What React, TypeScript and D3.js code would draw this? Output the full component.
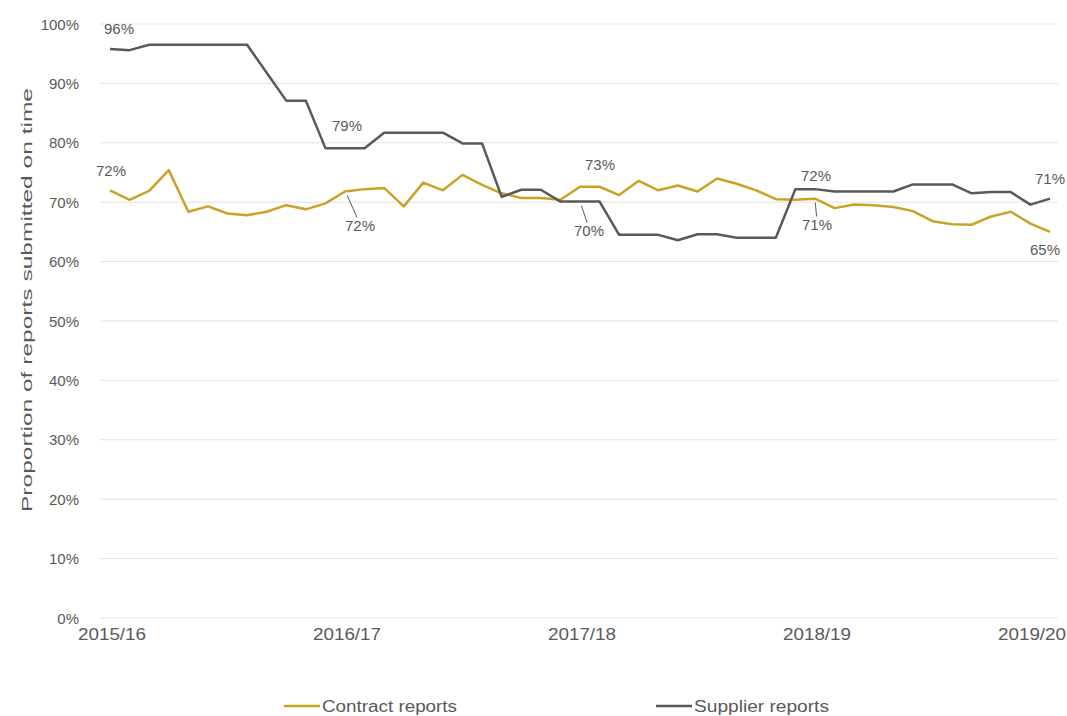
import React from "react";
import * as d3 from "d3";

// ---- data ----
const xTickLabels = ["2015/16", "2016/17", "2017/18", "2018/19", "2019/20"];
const monthsPerYear = 12;
const contractReports = [
  72.0, 70.4, 71.9, 75.4, 68.4, 69.3, 68.1, 67.8, 68.4, 69.5,
  68.8, 69.8, 71.8, 72.2, 72.4, 69.3, 73.3, 72.0, 74.6, 72.9,
  71.5, 70.7, 70.7, 70.4, 72.6, 72.6, 71.2, 73.6, 72.0, 72.8,
  71.8, 74.0, 73.1, 72.0, 70.5, 70.4, 70.6, 69.0, 69.6, 69.5,
  69.2, 68.5, 66.8, 66.3, 66.2, 67.6, 68.4, 66.4, 65.0,
];
const supplierReports = [
  95.8, 95.6, 96.5, 96.5, 96.5, 96.5, 96.5, 96.5, 91.8, 87.1,
  87.1, 79.1, 79.1, 79.1, 81.7, 81.7, 81.7, 81.7, 79.9, 79.9,
  70.9, 72.1, 72.1, 70.1, 70.1, 70.1, 64.5, 64.5, 64.5, 63.6,
  64.6, 64.6, 64.0, 64.0, 64.0, 72.2, 72.2, 71.8, 71.8, 71.8,
  71.8, 73.0, 73.0, 73.0, 71.5, 71.7, 71.7, 69.6, 70.6,
];
const yTicks = [0, 10, 20, 30, 40, 50, 60, 70, 80, 90, 100];
const seriesNames = ["Contract reports", "Supplier reports"];
const labelledIndices = [0, 12, 24, 36, 48];

// label placement offsets (relative to the point)
const contractLabelOffsets = [
  { dx: 1, dy: -20, leader: false },
  { dx: 15, dy: 34, leader: true },
  { dx: 20, dy: -22, leader: false },
  { dx: 2, dy: 26, leader: true },
  { dx: -5, dy: 18, leader: false },
];
const supplierLabelOffsets = [
  { dx: 9, dy: -20, leader: false },
  { dx: 2, dy: -23, leader: false },
  { dx: 9, dy: 29, leader: true },
  { dx: 1, dy: -14, leader: false },
  { dx: 0, dy: -20, leader: false },
];

const W = 1067;
const H = 716;
const COLOR_CONTRACT = "#c9a227";
const COLOR_SUPPLIER = "#595959";
const TEXT = "#595959";
const FONT = "'Liberation Sans', Arial, sans-serif";

export default function App() {
  const n = contractReports.length;
  const x = d3.scalePoint<number>().domain(d3.range(n)).range([110, 1050]);
  const y = d3.scaleLinear().domain([0, 100]).range([618, 24]);
  const plotLeft = 100;
  const plotRight = 1058;

  const line = d3
    .line<number>()
    .x((_, i) => x(i) as number)
    .y((d) => y(d));

  const renderLabels = (
    data: number[],
    offsets: { dx: number; dy: number; leader: boolean }[],
    key: string
  ) =>
    labelledIndices.map((idx, k) => {
      const px = x(idx) as number;
      const py = y(data[idx]);
      const o = offsets[k];
      const tx = px + o.dx;
      const ty = py + o.dy;
      return (
        <g key={key + idx}>
          {o.leader && (
            <line
              x1={px + o.dx * 0.15}
              y1={py + Math.sign(o.dy) * 4}
              x2={tx - o.dx * 0.2}
              y2={ty - Math.sign(o.dy) * 8}
              stroke={TEXT}
              strokeWidth={1}
            />
          )}
          <text
            x={tx}
            y={ty}
            textAnchor="middle"
            dominantBaseline="central"
            fontSize={15}
            fill={TEXT}
          >
            {Math.round(data[idx])}%
          </text>
        </g>
      );
    });

  return (
    <svg
      width={W}
      height={H}
      style={{ position: "absolute", left: 0, top: 0, background: "#fff" }}
      fontFamily={FONT}
    >
      {/* gridlines */}
      {yTicks.map((t) => (
        <line
          key={"g" + t}
          x1={plotLeft}
          x2={plotRight}
          y1={y(t)}
          y2={y(t)}
          stroke="#e3e3e3"
          strokeWidth={1}
        />
      ))}
      {/* y tick labels */}
      {yTicks.map((t) => (
        <text
          key={"yt" + t}
          x={79}
          y={y(t)}
          textAnchor="end"
          dominantBaseline="central"
          fontSize={15}
          fill={TEXT}
        >
          {t}%
        </text>
      ))}
      {/* y axis title */}
      <text
        transform={`translate(26,300) rotate(-90)`}
        textAnchor="middle"
        dominantBaseline="central"
        fontSize={15}
        fill={TEXT}
        textLength={424}
        lengthAdjust="spacingAndGlyphs"
      >
        Proportion of reports submitted on time
      </text>
      {/* x tick labels */}
      {xTickLabels.map((lab, k) => {
        const idx = k * monthsPerYear;
        const px = x(idx) as number;
        const last = px + 34 > W;
        return (
          <text
            key={"xt" + lab}
            x={last ? W - 1 : px + 2}
            y={634}
            textAnchor={last ? "end" : "middle"}
            dominantBaseline="central"
            fontSize={16}
            fill={TEXT}
            textLength={68}
            lengthAdjust="spacingAndGlyphs"
          >
            {lab}
          </text>
        );
      })}
      {/* lines */}
      <path
        d={line(contractReports) || ""}
        fill="none"
        stroke={COLOR_CONTRACT}
        strokeWidth={2.5}
        strokeLinejoin="round"
      />
      <path
        d={line(supplierReports) || ""}
        fill="none"
        stroke={COLOR_SUPPLIER}
        strokeWidth={2.5}
        strokeLinejoin="round"
      />
      {/* data labels */}
      {renderLabels(contractReports, contractLabelOffsets, "c")}
      {renderLabels(supplierReports, supplierLabelOffsets, "s")}
      {/* legend */}
      {seriesNames.map((name, k) => {
        const x0 = k === 0 ? 284 : 656;
        const color = k === 0 ? COLOR_CONTRACT : COLOR_SUPPLIER;
        return (
          <g key={"lg" + name}>
            <line x1={x0} x2={x0 + 36} y1={706} y2={706} stroke={color} strokeWidth={2.5} />
            <text
              x={x0 + 38}
              y={706}
              dominantBaseline="central"
              fontSize={16}
              fill={TEXT}
              textLength={k === 0 ? 135 : 135}
              lengthAdjust="spacingAndGlyphs"
            >
              {name}
            </text>
          </g>
        );
      })}
    </svg>
  );
}
